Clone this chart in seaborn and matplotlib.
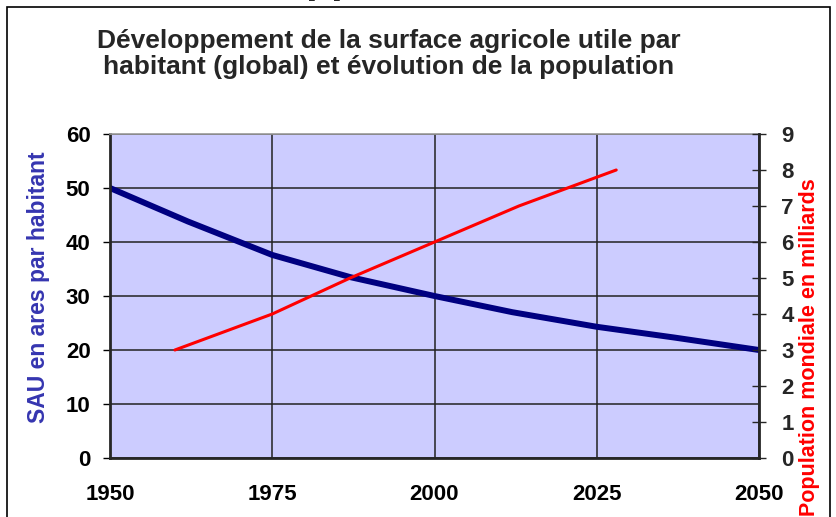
import matplotlib
matplotlib.use("Agg")
import matplotlib.pyplot as plt
from matplotlib.patches import Rectangle
import pandas as pd
import seaborn as sns

# Données
annees_sau = [1950, 1962, 1975, 1987, 2000, 2012, 2025, 2037, 2050]
sau_ares = [50, 43.8, 37.6, 33.5, 30, 27, 24.3, 22.3, 20]

annees_pop = [1960, 1975, 1987, 2000, 2013, 2028]
population = [3, 4, 5, 6, 7, 8]

x_ticks = [1950, 1975, 2000, 2025, 2050]
y_gauche = [0, 10, 20, 30, 40, 50, 60]
y_droite = [0, 1, 2, 3, 4, 5, 6, 7, 8, 9]

titre = "Développement de la surface agricole utile par\nhabitant (global) et évolution de la population"
label_gauche = "SAU en ares par habitant"
label_droite = "Population mondiale en milliards"

df_sau = pd.DataFrame({"annee": annees_sau, "sau": sau_ares})
df_pop = pd.DataFrame({"annee": annees_pop, "pop": population})

sns.set_style("white")
plt.rcParams["font.family"] = ["Liberation Sans", "DejaVu Sans"]
plt.rcParams["font.weight"] = "bold"

W, H = 837, 517
fig = plt.figure(figsize=(W / 100, H / 100), dpi=100)

# Cadre autour du graphique
fig.patches.append(Rectangle((7 / W, -0.1), 823 / W, 1.1 - 7 / H, transform=fig.transFigure,
                             fill=False, edgecolor="black", linewidth=1.2))
# Bout de texte coupé en haut (seules les jambes des "p" dépassent)
fig.text(305 / W, 1 + 8 / H, "pp", ha="left", va="baseline", fontsize=30.5, fontweight="bold")

ax = fig.add_axes([110 / W, 1 - 458 / H, 649 / W, 324 / H])
ax.set_facecolor("#CCCCFF")

sns.lineplot(data=df_sau, x="annee", y="sau", ax=ax, color="#000080", linewidth=4.3)
ax.set_xlim(1950, 2050)
ax.set_ylim(0, 60)
ax.set_xticks(x_ticks)
ax.set_yticks(y_gauche)
ax.set_xlabel("")
ax.set_ylabel("")
ax.grid(True, color="#222222", linewidth=1.1)
ax.set_axisbelow(True)
ax.tick_params(axis="both", direction="out", length=5, width=1, labelsize=16, colors="black")
ax.tick_params(axis="x", pad=14)
ax.tick_params(axis="y", pad=9)
for lab in ax.get_xticklabels() + ax.get_yticklabels():
    lab.set_fontweight("bold")
ax.spines["left"].set_linewidth(2)
ax.spines["bottom"].set_linewidth(2)
ax.spines["top"].set_color("#999999")
ax.spines["top"].set_linewidth(1.2)

ax2 = ax.twinx()
sns.lineplot(data=df_pop, x="annee", y="pop", ax=ax2, color="#FF0000", linewidth=2.2)
ax2.set_ylim(0, 9)
ax2.set_yticks(y_droite)
ax2.set_ylabel("")
ax2.tick_params(axis="y", direction="inout", length=10, width=1, labelsize=16, pad=11)
for lab in ax2.get_yticklabels():
    lab.set_fontweight("bold")
ax2.spines["right"].set_linewidth(2)
ax2.spines["top"].set_visible(False)
ax2.spines["left"].set_visible(False)
ax2.spines["bottom"].set_visible(False)

fig.text(389 / W, 1 - 54 / H, titre, ha="center", va="center", fontsize=19, fontweight="bold",
         linespacing=1.1)
fig.text(39 / W, 1 - 287 / H, label_gauche, rotation=90, ha="center", va="center",
         fontsize=16.5, fontweight="bold", color="#3535B0")
fig.text(810 / W, 1 - 347 / H, label_droite, rotation=90, ha="center", va="center",
         fontsize=15.5, fontweight="bold", color="#FF0000")

fig.savefig("out.png", dpi=100)
